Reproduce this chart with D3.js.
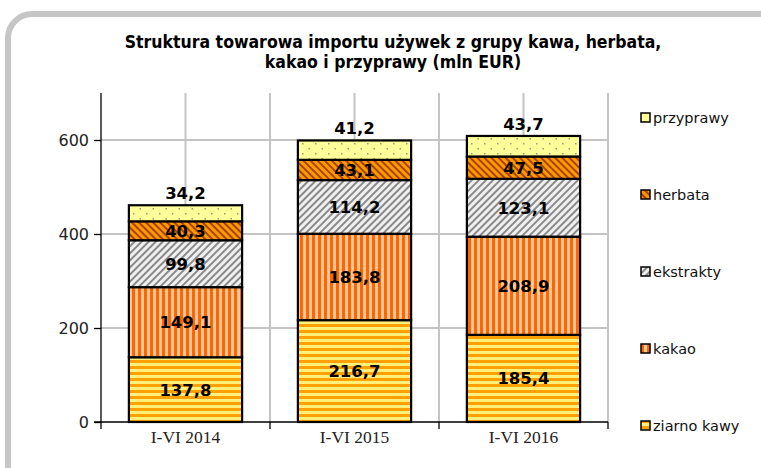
<!DOCTYPE html>
<html>
<head>
<meta charset="utf-8">
<script src="https://cdn.jsdelivr.net/npm/d3@7"></script>
<style>
  html, body { margin: 0; padding: 0; background: #fff; }
  svg { display: block; }
</style>
</head>
<body>
<svg id="chart" width="761" height="468"></svg>
<script>
// Import structure, mln EUR
const periods = ["I-VI 2014", "I-VI 2015", "I-VI 2016"];
const seriesNames = ["ziarno kawy", "kakao", "ekstrakty", "herbata", "przyprawy"];
const ziarnoKawy = [137.8, 216.7, 185.4];
const kakao = [149.1, 183.8, 208.9];
const ekstrakty = [99.8, 114.2, 123.1];
const herbata = [40.3, 43.1, 47.5];
const przyprawy = [34.2, 41.2, 43.7];
const yTicks = [0, 200, 400, 600];
const titleLines = ["Struktura towarowa importu używek z grupy kawa, herbata,", "kakao i przyprawy (mln EUR)"];

const seriesValues = [ziarnoKawy, kakao, ekstrakty, herbata, przyprawy];
const rows = periods.map((p, i) => {
  const r = { period: p };
  seriesNames.forEach((s, k) => { r[s] = seriesValues[k][i]; });
  return r;
});
const stacked = d3.stack().keys(seriesNames)(rows);

const svg = d3.select("#chart");
const defs = svg.append("defs");

// Fill patterns for each series
function pat(id, w, h, draw, transform) {
  const p = defs.append("pattern").attr("id", id)
    .attr("patternUnits", "userSpaceOnUse").attr("width", w).attr("height", h);
  if (transform) p.attr("patternTransform", transform);
  draw(p);
}
pat("p-kawa", 6, 6, p => {
  p.append("rect").attr("width", 6).attr("height", 6).attr("fill", "#fff07a");
  p.append("rect").attr("width", 6).attr("height", 3).attr("fill", "#ffa000");
});
pat("p-kakao", 6, 6, p => {
  p.append("rect").attr("width", 6).attr("height", 6).attr("fill", "#ffc89a");
  p.append("rect").attr("width", 3).attr("height", 6).attr("fill", "#ff6600");
});
pat("p-ekstrakty", 5, 5, p => {
  p.append("rect").attr("width", 5).attr("height", 5).attr("fill", "#f0f0f0");
  p.append("rect").attr("width", 2).attr("height", 5).attr("fill", "#8a8a8a");
}, "rotate(45)");
pat("p-herbata", 5, 5, p => {
  p.append("rect").attr("width", 5).attr("height", 5).attr("fill", "#ff9900");
  p.append("rect").attr("width", 2).attr("height", 5).attr("fill", "#a84400");
}, "rotate(-45)");
pat("p-przyprawy", 13, 10, p => {
  p.append("rect").attr("width", 13).attr("height", 10).attr("fill", "#ffff99");
  p.append("rect").attr("x", 3).attr("y", 3).attr("width", 1.5).attr("height", 1.5).attr("fill", "#9a9a7a");
  p.append("rect").attr("x", 9.5).attr("y", 8).attr("width", 1.5).attr("height", 1.5).attr("fill", "#9a9a7a");
});
const fills = {
  "ziarno kawy": "url(#p-kawa)",
  "kakao": "url(#p-kakao)",
  "ekstrakty": "url(#p-ekstrakty)",
  "herbata": "url(#p-herbata)",
  "przyprawy": "url(#p-przyprawy)"
};

// Outer frame
svg.append("rect")
  .attr("x", 8).attr("y", 14).attr("width", 790).attr("height", 500)
  .attr("rx", 24).attr("fill", "#fff")
  .attr("stroke", "#c6c6c6").attr("stroke-width", 6);

// Title
svg.append("text")
  .attr("x", 393).attr("text-anchor", "middle")
  .style("font-family", "'DejaVu Sans Condensed', 'DejaVu Sans', sans-serif")
  .style("font-weight", "bold").style("font-size", "17.5px").attr("fill", "#000")
  .selectAll("tspan").data(titleLines).join("tspan")
  .attr("x", 393).attr("y", (d, i) => 48 + i * 20).text(d => d);

const plotLeft = 101, plotRight = 608, plotTop = 93, plotBottom = 422;
const x = d3.scaleBand().domain(periods).range([plotLeft, plotRight]).paddingInner(0.33).paddingOuter(0.165);
const y = d3.scaleLinear().domain([0, 700]).range([plotBottom, plotTop]);
const step = (plotRight - plotLeft) / periods.length;

const plot = svg.append("g");

// Gridlines
plot.selectAll("line.hgrid").data(yTicks.filter(t => t > 0)).join("line")
  .attr("x1", plotLeft).attr("x2", plotRight)
  .attr("y1", d => y(d)).attr("y2", d => y(d))
  .attr("stroke", "#c4c4c4").attr("stroke-width", 2);
const vgrid = d3.range(1, periods.length * 2 + 1).map(i => plotLeft + i * step / 2);
plot.selectAll("line.vgrid").data(vgrid).join("line")
  .attr("x1", d => d).attr("x2", d => d)
  .attr("y1", plotTop).attr("y2", plotBottom)
  .attr("stroke", "#c4c4c4").attr("stroke-width", 2);

// Stacked bars
const layers = plot.selectAll("g.layer").data(stacked).join("g").attr("class", "layer");
layers.selectAll("rect").data(d => d.map(v => ({ key: d.key, v }))).join("rect")
  .attr("x", d => x(d.v.data.period))
  .attr("width", x.bandwidth())
  .attr("y", d => y(d.v[1]))
  .attr("height", d => y(d.v[0]) - y(d.v[1]))
  .attr("fill", d => fills[d.key])
  .attr("stroke", "#000").attr("stroke-width", 2.2);

// Axes
const yAxis = d3.axisLeft(y).tickValues(yTicks).tickSize(7).tickPadding(5);
const yg = svg.append("g").attr("transform", `translate(${plotLeft},0)`).call(yAxis);
yg.select(".domain").attr("d", `M0,${plotTop}V${plotBottom}`).attr("stroke", "#000").attr("stroke-width", 1.3);
yg.selectAll(".tick line").attr("stroke", "#000").attr("stroke-width", 1.3);
yg.selectAll(".tick text")
  .style("font-family", "'DejaVu Sans', sans-serif").style("font-size", "16px").attr("fill", "#222");

const xg = svg.append("g").attr("transform", `translate(0,${plotBottom})`);
xg.append("line").attr("x1", plotLeft - 7).attr("x2", plotRight).attr("stroke", "#000").attr("stroke-width", 1.3);
xg.selectAll("line.xt").data(d3.range(0, periods.length + 1).map(i => plotLeft + i * step)).join("line")
  .attr("x1", d => d).attr("x2", d => d).attr("y1", 0).attr("y2", 7)
  .attr("stroke", "#000").attr("stroke-width", 1.3);
xg.selectAll("text").data(periods).join("text")
  .attr("x", d => x(d) + x.bandwidth() / 2).attr("y", 21)
  .attr("text-anchor", "middle")
  .style("font-family", "'Liberation Serif', serif").style("font-size", "17.5px").attr("fill", "#222")
  .text(d => d);

// Value labels
const labelFont = "'DejaVu Sans', sans-serif";
stacked.forEach((layer, k) => {
  const isTop = k === stacked.length - 1;
  plot.selectAll(null).data(layer).join("text")
    .attr("x", d => x(d.data.period) + x.bandwidth() / 2)
    .attr("y", d => isTop ? y(d[1]) - 6 : (y(d[0]) + y(d[1])) / 2 + 6)
    .attr("text-anchor", "middle")
    .style("font-family", labelFont).style("font-weight", "bold").style("font-size", "16.5px")
    .attr("fill", "#000")
    .text(d => d3.format(".1f")(d[1] - d[0]).replace(".", ","));
});

// Legend
const legendNames = seriesNames.slice().reverse();
const lg = svg.append("g").selectAll("g").data(legendNames).join("g")
  .attr("transform", (d, i) => `translate(641,${118 + i * 77})`);
lg.append("rect").attr("x", 0).attr("y", -5).attr("width", 9).attr("height", 9)
  .attr("fill", d => fills[d]).attr("stroke", "#000").attr("stroke-width", 1.5);
lg.append("text").attr("x", 12).attr("y", 5)
  .style("font-family", "'DejaVu Sans', sans-serif").style("font-size", "14.5px").attr("fill", "#111")
  .text(d => d);
</script>
</body>
</html>
